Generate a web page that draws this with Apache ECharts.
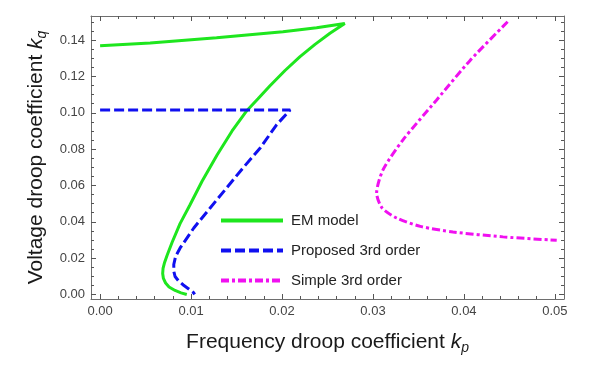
<!DOCTYPE html>
<html><head><meta charset="utf-8">
<script src="https://cdn.jsdelivr.net/npm/echarts@6/dist/echarts.min.js"></script>
<style>html,body{margin:0;padding:0;background:#fff}#c{width:609px;height:365px}</style>
</head><body><div id="c"></div>
<script>
// Tick values
const xMajorTicks = [0, 0.01, 0.02, 0.03, 0.04, 0.05];
const xMinorTicks = [0.002, 0.004, 0.006, 0.008, 0.012, 0.014, 0.016, 0.018, 0.022, 0.024, 0.026, 0.028,
  0.032, 0.034, 0.036, 0.038, 0.042, 0.044, 0.046, 0.048];
const yMajorTicks = [0, 0.02, 0.04, 0.06, 0.08, 0.10, 0.12, 0.14];
const yMinorTicks = [0.005, 0.01, 0.015, 0.025, 0.03, 0.035, 0.045, 0.05, 0.055, 0.065, 0.07, 0.075,
  0.085, 0.09, 0.095, 0.105, 0.11, 0.115, 0.125, 0.13, 0.135, 0.145, 0.15];

// Series names
const seriesNames = ['EM model', 'Proposed 3rd order', 'Simple 3rd order'];

// EM model (kp, kq)
const emKp = [0.0000, 0.0055, 0.0128, 0.0201, 0.0238, 0.0269,
  0.02527, 0.02363, 0.02198, 0.02033, 0.01868, 0.01736, 0.01615, 0.01451, 0.01286, 0.01121,
  0.00989, 0.00879, 0.00791, 0.00736, 0.00709, 0.00692, 0.00688, 0.00696, 0.00720, 0.00758, 0.00824, 0.00890, 0.00953];
const emKq = [0.1369, 0.1385, 0.1413, 0.1446, 0.1468, 0.1492,
  0.1438, 0.1377, 0.1309, 0.1233, 0.1149, 0.1077, 0.1013, 0.0900, 0.0768, 0.0623,
  0.0494, 0.0390, 0.0286, 0.0214, 0.0176, 0.0143, 0.0115, 0.0088, 0.0063, 0.0041, 0.0022, 0.0009, 0.0000];

// Proposed 3rd order (kp, kq)
const propKp = [0.0000, 0.0209, 0.0194, 0.0176, 0.0157, 0.0139, 0.0121, 0.0103, 0.0088, 0.0083, 0.0081,
  0.00811, 0.00824, 0.00863, 0.00915, 0.00967, 0.01025, 0.0104];
const propKq = [0.1016, 0.1016, 0.0934, 0.0806, 0.0696, 0.0586, 0.0476, 0.0366, 0.0256, 0.0209, 0.0165,
  0.0126, 0.0099, 0.0074, 0.0052, 0.0033, 0.0011, 0.0000];

// Simple 3rd order (kp, kq)
const simpKp = [0.0448, 0.0407, 0.0370, 0.0333, 0.0311, 0.0304, 0.0310, 0.0326, 0.0352, 0.0388, 0.0443, 0.0502];
const simpKq = [0.1501, 0.1290, 0.1071, 0.0851, 0.0686, 0.0558, 0.0476, 0.0421, 0.0375, 0.0344, 0.0317, 0.0298];

const zip = (a, b) => a.map((v, i) => [v, b[i]]);

const FONT = 'Liberation Sans';
const frame = { show: true, onZero: false, lineStyle: { color: '#6e6e6e', width: 1 } };
const noLine = { show: false, onZero: false };
const xRange = { min: -0.001, max: 0.051 };
const yRange = { min: -0.0025, max: 0.1533 };

function xAx(pos, major, labels) {
  return Object.assign({
    type: 'value', position: pos, gridIndex: 0,
    axisLine: major ? frame : noLine,
    splitLine: { show: false },
    axisTick: { show: true, inside: true, length: major ? 5 : 3, lineStyle: { color: '#555' },
      customValues: major ? xMajorTicks : xMinorTicks },
    axisLabel: labels ? { show: true, customValues: xMajorTicks, formatter: v => v.toFixed(2),
      color: '#444', fontSize: 13, fontFamily: FONT, margin: 6 } : { show: false }
  }, xRange);
}
function yAx(pos, major, labels) {
  return Object.assign({
    type: 'value', position: pos, gridIndex: 0,
    axisLine: major ? frame : noLine,
    splitLine: { show: false },
    axisTick: { show: true, inside: true, length: major ? 5 : 3, lineStyle: { color: '#555' },
      customValues: major ? yMajorTicks : yMinorTicks },
    axisLabel: labels ? { show: true, customValues: yMajorTicks, formatter: v => v.toFixed(2),
      color: '#444', fontSize: 13, fontFamily: FONT, margin: 6 } : { show: false }
  }, yRange);
}

const xs = [xAx('bottom', true, true), xAx('bottom', false, false), xAx('top', true, false), xAx('top', false, false)];
const ys = [yAx('left', true, true), yAx('left', false, false), yAx('right', true, false), yAx('right', false, false)];

const titleRich = {
  k: { fontSize: 21, fontStyle: 'italic', color: '#1a1a1a', fontFamily: FONT },
  s: { fontSize: 14, fontStyle: 'italic', color: '#1a1a1a', fontFamily: FONT, padding: [12, 0, 0, 0] }
};
xs[0].name = 'Frequency droop coefficient {k|k}{s|p}';
xs[0].nameLocation = 'middle';
xs[0].nameGap = 30;
xs[0].nameTextStyle = { fontSize: 21, color: '#1a1a1a', fontFamily: FONT, rich: titleRich };
ys[0].name = 'Voltage droop coefficient {k|k}{s|q}';
ys[0].nameLocation = 'middle';
ys[0].nameGap = 42;
ys[0].nameTextStyle = { fontSize: 21, color: '#1a1a1a', fontFamily: FONT, rich: titleRich };

const chart = echarts.init(document.getElementById('c'), null, { renderer: 'canvas' });
chart.setOption({
  backgroundColor: '#fff',
  animation: false,
  grid: { left: 91, right: 45, top: 16, bottom: 66 },
  xAxis: xs,
  yAxis: ys,
  legend: {
    orient: 'vertical', left: 214, top: 208, padding: 5,
    itemWidth: 62, itemHeight: 14, itemGap: 15,
    itemStyle: { opacity: 0 },
    lineStyle: { width: 4 },
    textStyle: { fontSize: 15, color: '#222', fontFamily: FONT, padding: [0, 0, 0, 3] },
    data: seriesNames
  },
  series: [
    { name: seriesNames[0], type: 'line', xAxisIndex: 0, yAxisIndex: 0, data: zip(emKp, emKq),
      showSymbol: false, symbol: 'none', smooth: false,
      lineStyle: { color: '#1ee61e', width: 3 }, itemStyle: { color: '#1ee61e' } },
    { name: seriesNames[1], type: 'line', xAxisIndex: 0, yAxisIndex: 0, data: zip(propKp, propKq),
      showSymbol: false, symbol: 'none', smooth: false,
      lineStyle: { color: '#1010f0', width: 3, type: [10, 4] }, itemStyle: { color: '#1010f0' } },
    { name: seriesNames[2], type: 'line', xAxisIndex: 0, yAxisIndex: 0, data: zip(simpKp, simpKq),
      showSymbol: false, symbol: 'none', smooth: 0.25,
      lineStyle: { color: '#f010f0', width: 3, type: [8, 3, 3, 3] }, itemStyle: { color: '#f010f0' } }
  ]
});
</script></body></html>
